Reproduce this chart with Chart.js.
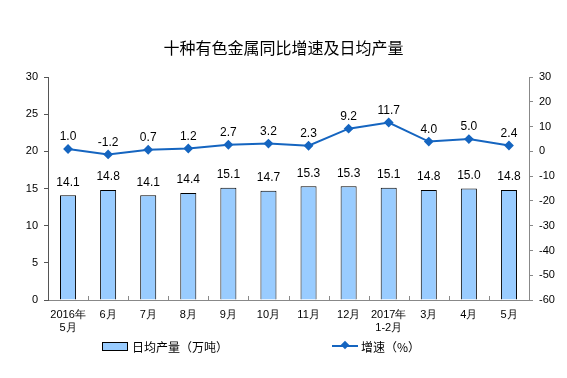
<!DOCTYPE html>
<html>
<head>
<meta charset="utf-8">
<script src="https://cdn.jsdelivr.net/npm/chart.js@4.4.0/dist/chart.umd.min.js"></script>
<style>
  body { margin: 0; background: #fff; }
  #wrap { position: relative; width: 567px; height: 378px; }
  #legend { position: absolute; top: 337px; left: 0; width: 567px; height: 18px;
    font-family: "Noto Sans CJK SC", sans-serif; font-size: 12px; color: #000; }
  .item { position: absolute; top: 0; display: flex; align-items: center; height: 18px; }
  .swatch { width: 24px; height: 7px; background: #99ccff; border: 1px solid #000; margin-right: 4px; }
  .lineSw { position: relative; width: 26px; height: 2px; background: #1565c0; margin-right: 3px; }
  .lineSw span { position: absolute; left: 10px; top: -3px; width: 6px; height: 6px;
    background: #1565c0; transform: rotate(45deg); }
</style>
</head>
<body>
<div id="wrap">
  <canvas id="chart" width="567" height="378"></canvas>
  <div id="legend">
    <div class="item" style="left:102px"><div class="swatch"></div>日均产量（万吨）</div>
    <div class="item" style="left:332px"><div class="lineSw"><span></span></div>增速（%）</div>
  </div>
</div>
<script>
const months = [['2016年', '5月'], '6月', '7月', '8月', '9月', '10月', '11月', '12月',
  ['2017年', '1-2月'], '3月', '4月', '5月'];
const dailyOutput = [14.1, 14.8, 14.1, 14.4, 15.1, 14.7, 15.3, 15.3, 15.1, 14.8, 15.0, 14.8];
const growthRate = [1.0, -1.2, 0.7, 1.2, 2.7, 3.2, 2.3, 9.2, 11.7, 4.0, 5.0, 2.4];

const numFont = '"Liberation Sans", Arial, sans-serif';

// value labels above bars and points
const valueLabels = {
  id: 'valueLabels',
  afterDatasetsDraw(chart) {
    const ctx = chart.ctx;
    ctx.save();
    ctx.font = '12px ' + numFont;
    ctx.fillStyle = '#000';
    ctx.textAlign = 'center';
    ctx.textBaseline = 'middle';
    chart.data.datasets.forEach((ds, i) => {
      const meta = chart.getDatasetMeta(i);
      meta.data.forEach((el, j) => {
        const off = ds.type === 'line' ? 12 : 13;
        ctx.fillText(ds.data[j].toFixed(1), el.x, el.y - off);
      });
    });
    ctx.restore();
  }
};

// small inward tick marks between categories on the x axis
const categoryTicks = {
  id: 'categoryTicks',
  afterDraw(chart) {
    const x = chart.scales.x;
    const ctx = chart.ctx;
    ctx.save();
    ctx.strokeStyle = '#888';
    ctx.lineWidth = 1;
    for (let i = 0; i < months.length - 1; i++) {
      const px = Math.round((x.getPixelForValue(i) + x.getPixelForValue(i + 1)) / 2) + 0.5;
      ctx.beginPath();
      ctx.moveTo(px, x.top);
      ctx.lineTo(px, x.top - 4);
      ctx.stroke();
    }
    ctx.restore();
  }
};

new Chart(document.getElementById('chart'), {
  data: {
    labels: months,
    datasets: [
      {
        type: 'line',
        label: '增速（%）',
        data: growthRate,
        yAxisID: 'y2',
        borderColor: '#1565c0',
        backgroundColor: '#1565c0',
        borderWidth: 2,
        pointStyle: 'rectRot',
        pointRadius: 3.5,
        tension: 0,
        order: 0
      },
      {
        type: 'bar',
        label: '日均产量（万吨）',
        data: dailyOutput,
        yAxisID: 'y',
        backgroundColor: '#99ccff',
        borderColor: '#000',
        borderWidth: 1,
        barPercentage: 0.4,
        categoryPercentage: 1,
        order: 1
      }
    ]
  },
  options: {
    responsive: false,
    animation: false,
    layout: { padding: 0 },
    plugins: {
      legend: { display: false },
      tooltip: { enabled: false },
      title: {
        display: true,
        text: '十种有色金属同比增速及日均产量',
        color: '#000',
        font: { family: '"Noto Sans CJK SC", sans-serif', size: 16, weight: 'normal' },
        padding: { top: 38, bottom: 20 }
      }
    },
    scales: {
      x: {
        grid: { display: false, drawTicks: false },
        border: { color: '#888', width: 1 },
        ticks: {
          color: '#000',
          padding: 8,
          maxRotation: 0,
          autoSkip: false,
          font: { family: numFont, size: 11 }
        },
        afterFit(scale) { scale.height = 78; }
      },
      y: {
        position: 'left',
        min: 0,
        max: 30,
        grid: { drawOnChartArea: false, tickLength: 4, color: '#555' },
        border: { color: '#555', width: 1 },
        ticks: { stepSize: 5, color: '#000', padding: 6, font: { family: numFont, size: 11 } },
        afterFit(scale) { scale.width = 48; }
      },
      y2: {
        position: 'right',
        min: -60,
        max: 30,
        grid: { drawOnChartArea: false, tickLength: 4, color: '#888' },
        border: { color: '#888', width: 1 },
        ticks: { stepSize: 10, color: '#000', padding: 6, font: { family: numFont, size: 11 } },
        afterFit(scale) { scale.width = 38; }
      }
    }
  },
  plugins: [valueLabels, categoryTicks]
});
</script>
</body>
</html>
